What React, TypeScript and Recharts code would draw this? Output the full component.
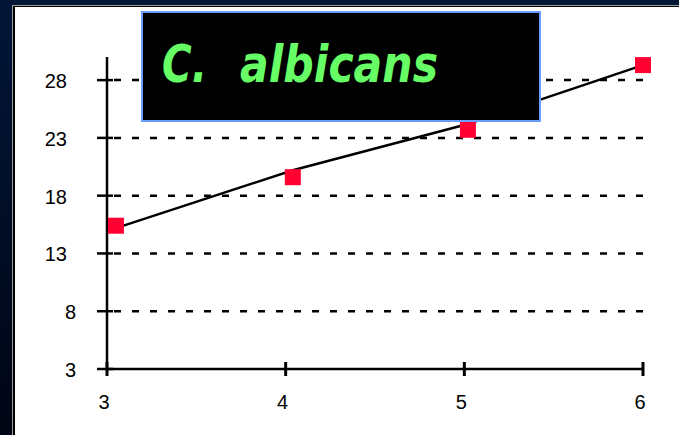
import { ComposedChart, Line, XAxis, YAxis, CartesianGrid } from "recharts"

const xValues = [3.05, 4.04, 5.02, 6.0]
// red squares (measured)
const observed = [15.4, 19.6, 23.7, 29.3]
// black line (fitted)
const fitted = [15.2, 20.2, 24.2, 29.3]

const xTicks = [3, 4, 5, 6]
const yTicks = [3, 8, 13, 18, 23, 28]
const gridValues = [8, 13, 18, 23, 28]

const data = xValues.map((x, i) => ({ x, observed: observed[i], fitted: fitted[i] }))

const labelFont = "'Liberation Sans', Arial, sans-serif"

const YTick = ({ x, y, payload }: any) => {
  const label = String(payload.value)
  return (
    <g>
      <line x1={x - 10} x2={x + 6} y1={y} y2={y} stroke="#000" strokeWidth={2.5} />
      <text x={label.length > 1 ? x - 40 : x - 31} y={y + 8} textAnchor="end" fontSize={20} fontFamily={labelFont} fill="#000">
        {label}
      </text>
    </g>
  )
}

const XTick = ({ x, y, payload }: any) => (
  <g>
    <line x1={x} x2={x} y1={y - 7} y2={y + 7} stroke="#000" strokeWidth={3} />
    <text x={x - 3} y={y + 40} textAnchor="middle" fontSize={20} fontFamily={labelFont} fill="#000">
      {payload.value}
    </text>
  </g>
)

const SquareDot = ({ cx, cy }: any) => {
  if (cx == null || cy == null) return null
  return <rect x={cx - 8} y={cy - 8} width={16} height={16} fill="#ff0033" />
}

export default function App() {
  return (
    <div style={{ position: "absolute", left: 0, top: 0, width: 679, height: 435, overflow: "hidden", background: "linear-gradient(#021638, #000514)" }}>
      <div style={{ position: "absolute", left: 12, top: 5, right: -4, bottom: -4, border: "1px solid #9a9a9a", boxSizing: "border-box" }}>
        <div style={{ position: "absolute", inset: 0, borderLeft: "2px solid #000", borderTop: "1px solid #000", background: "#fff" }} />
      </div>
      <div style={{ position: "absolute", left: 0, top: 0 }}>
        <ComposedChart width={679} height={435} data={data} margin={{ top: 57, right: 36, bottom: 0, left: 0 }}>
          <CartesianGrid
            vertical={false}
            horizontalValues={gridValues}
            stroke="#000"
            strokeWidth={2.5}
            strokeDasharray="7 11"
            strokeDashoffset={11}
          />
          <XAxis
            type="number"
            dataKey="x"
            domain={[3, 6]}
            ticks={xTicks}
            height={66}
            tickSize={0}
            tickMargin={0}
            tick={<XTick />}
            axisLine={{ stroke: "#000", strokeWidth: 2.5 }}
            tickLine={false}
          />
          <YAxis
            type="number"
            domain={[3, 30]}
            ticks={yTicks}
            width={107}
            tickSize={0}
            tickMargin={0}
            tick={<YTick />}
            axisLine={{ stroke: "#000", strokeWidth: 2.5 }}
            tickLine={false}
          />
          <Line dataKey="fitted" type="linear" stroke="#000" strokeWidth={2.4} dot={false} isAnimationActive={false} />
          <Line dataKey="observed" type="linear" stroke="none" dot={<SquareDot />} activeDot={false} isAnimationActive={false} />
        </ComposedChart>
      </div>
      <div style={{ position: "absolute", left: 141, top: 11, width: 400, height: 111, boxSizing: "border-box", border: "2.5px solid #6b9cff", background: "#000" }}>
        <svg width={395} height={106} style={{ display: "block" }}>
          <text x={19} y={69} fontSize={52} fontFamily="'DejaVu Sans', sans-serif" fontWeight="bold" fontStyle="italic" fill="#66ff66" textLength={45} lengthAdjust="spacingAndGlyphs">
            C.
          </text>
          <text x={97} y={69} fontSize={52} fontFamily="'DejaVu Sans', sans-serif" fontWeight="bold" fontStyle="italic" fill="#66ff66" textLength={198} lengthAdjust="spacingAndGlyphs">
            albicans
          </text>
        </svg>
      </div>
    </div>
  )
}
